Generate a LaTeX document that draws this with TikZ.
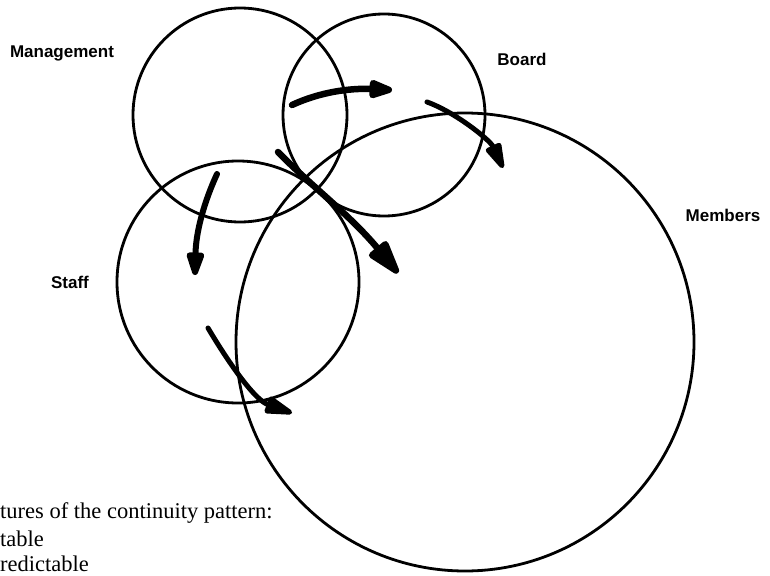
\documentclass[tikz,border=0pt]{standalone}
\usepackage{fontspec}
\setmainfont{Liberation Serif}
\newfontfamily\lblfont{Liberation Sans}
\usetikzlibrary{arrows.meta}
\begin{document}
\begin{tikzpicture}[x=1pt,y=-1pt,
  ring/.style={circle,draw,line width=2.8pt,inner sep=0pt,outer sep=0pt},
  lbl/.style={font=\lblfont\bfseries\fontsize{17}{20}\selectfont,inner sep=0pt},
  flow/.style={line cap=round,line join=round},
  note/.style={font=\fontsize{22.5}{26}\selectfont,anchor=base west,inner sep=0pt}]
\useasboundingbox (0,0) rectangle (770,575);
\node[ring,minimum size=214pt] (mgmt) at (240,115) {};
\node[ring,minimum size=202pt] (board) at (384,115) {};
\node[ring,minimum size=242pt] (staff) at (238,282) {};
\node[ring,minimum size=458pt] (members) at (465,342) {};
\node[lbl] (lmgmt) at (62,53) {Management};
\node[lbl] (lboard) at (522,59) {Board};
\node[lbl] (lstaff) at (70,282) {Staff};
\node[lbl] (lmembers) at (723,215) {Members};
\coordinate (a1s) at (292,105); \coordinate (a1e) at (392,90);
\coordinate (a2s) at (427,102); \coordinate (a2e) at (503,168);
\coordinate (a3s) at (278,152); \coordinate (a3e) at (398,273);
\coordinate (a4s) at (217,174); \coordinate (a4e) at (195,275);
\coordinate (a5s) at (208,328); \coordinate (a5e) at (292,413);
\draw[flow,line width=6.5pt,-{Triangle[length=30pt,width=19pt,round]}] (a1s) .. controls (320,92) and (350,88) .. (a1e);
\draw[flow,line width=5pt,-{Triangle[length=32pt,width=17pt,round]}] (a2s) .. controls (455,112) and (490,140) .. (a2e);
\draw[flow,line width=6.5pt,-{Triangle[length=42pt,width=24pt,round]}] (a3s) .. controls (310,185) and (350,215) .. (a3e);
\draw[flow,line width=6pt,-{Triangle[length=30pt,width=18pt,round]}] (a4s) .. controls (205,200) and (196,230) .. (a4e);
\draw[flow,line width=5pt,-{Triangle[length=34pt,width=18pt,round]}] (a5s) .. controls (230,365) and (255,400) .. (a5e);
\node[note] (t1) at (0,518) {tures of the continuity pattern:};
\node[note] (t2) at (0,546) {table};
\node[note] (t3) at (0,571) {redictable};
\end{tikzpicture}
\end{document}
